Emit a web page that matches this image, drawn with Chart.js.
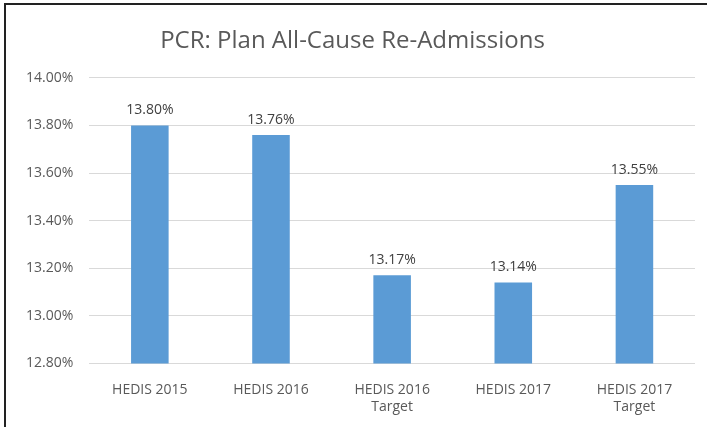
<!DOCTYPE html>
<html>
<head>
<meta charset="utf-8">
<script src="https://cdn.jsdelivr.net/npm/chart.js@4"></script>
<style>
  html, body { margin: 0; padding: 0; background: #fff; }
  #box {
    position: absolute; left: 4px; top: 3px;
    width: 720px; height: 440px;
    border-left: 2px solid #222; border-top: 2px solid #222;
  }
  #wrap { position: absolute; left: 0; top: 0; width: 701px; height: 422px; }
</style>
</head>
<body>
<div id="box"><div id="wrap"><canvas id="chart"></canvas></div></div>
<script>
// categories and values
const categories = [
  'HEDIS 2015',
  'HEDIS 2016',
  ['HEDIS 2016', 'Target'],
  'HEDIS 2017',
  ['HEDIS 2017', 'Target']
];
const readmitRates = [13.80, 13.76, 13.17, 13.14, 13.55];
const yTicks = [12.8, 13.0, 13.2, 13.4, 13.6, 13.8, 14.0];

const fontFamily = "'Open Sans', 'Noto Sans', sans-serif";
const textColor = '#595959';

// labels above each bar, placed from the bar elements
const valueLabels = {
  id: 'valueLabels',
  afterDatasetsDraw(chart) {
    const ctx = chart.ctx;
    const meta = chart.getDatasetMeta(0);
    ctx.save();
    ctx.font = `14px ${fontFamily}`;
    ctx.fillStyle = '#404040';
    ctx.textAlign = 'center';
    ctx.textBaseline = 'bottom';
    meta.data.forEach((bar, i) => {
      ctx.fillText(readmitRates[i].toFixed(2) + '%', bar.x, bar.y - 8);
    });
    ctx.restore();
  }
};

new Chart(document.getElementById('chart'), {
  type: 'bar',
  data: {
    labels: categories,
    datasets: [{
      data: readmitRates,
      backgroundColor: '#5B9BD5',
      borderWidth: 0,
      barPercentage: 0.31,
      categoryPercentage: 1
    }]
  },
  options: {
    responsive: true,
    maintainAspectRatio: false,
    animation: false,
    layout: { padding: { left: 4, right: 12, top: 22, bottom: 2 } },
    plugins: {
      legend: { display: false },
      tooltip: { enabled: false },
      title: {
        display: true,
        text: 'PCR: Plan All-Cause Re-Admissions',
        color: textColor,
        font: { family: fontFamily, size: 24, weight: 'normal' },
        padding: { top: 0, bottom: 22 }
      }
    },
    scales: {
      x: {
        grid: { display: false },
        border: { display: false },
        ticks: {
          color: textColor,
          font: { family: fontFamily, size: 14 },
          maxRotation: 0,
          padding: 10
        }
      },
      y: {
        min: 12.8,
        max: 14.0,
        afterBuildTicks(axis) {
          axis.ticks = yTicks.map(v => ({ value: v }));
        },
        grid: { color: '#d9d9d9', lineWidth: 1, drawTicks: false },
        border: { display: false },
        ticks: {
          color: textColor,
          font: { family: fontFamily, size: 14 },
          padding: 16,
          callback: v => Number(v).toFixed(2) + '%'
        }
      }
    }
  },
  plugins: [valueLabels]
});
</script>
</body>
</html>
